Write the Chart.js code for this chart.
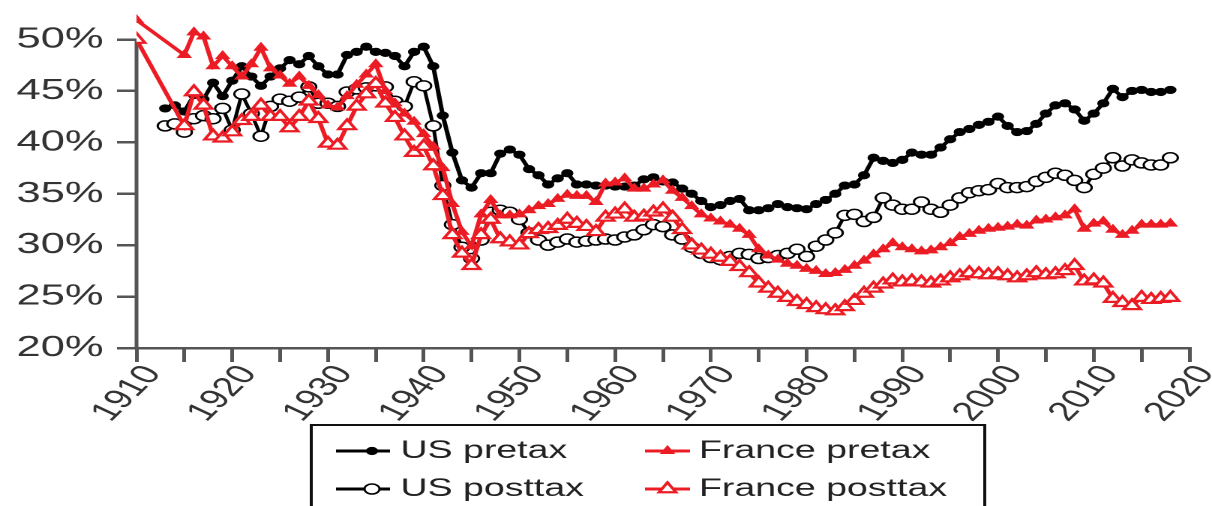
<!DOCTYPE html>
<html>
<head>
<meta charset="utf-8">
<title>Top 10% share: US vs France, pretax and posttax</title>
<script src="https://cdn.jsdelivr.net/npm/chart.js@4.4.1/dist/chart.umd.min.js"></script>
<style>
  html, body { margin: 0; padding: 0; background: #fff; overflow: hidden; }
  /* the source picture is stretched sideways, so draw narrow and widen it */
  #wrap { position: absolute; left: 0; top: 0; width: 808px; height: 506px; transform: scaleX(1.5); transform-origin: 0 0; }
</style>
</head>
<body>
<div id="wrap"><canvas id="myChart"></canvas></div>
<script>
// Years on the x axis (1910 - 2018)
const years = [
  1910, 1911, 1912, 1913, 1914, 1915, 1916, 1917, 1918, 1919,
  1920, 1921, 1922, 1923, 1924, 1925, 1926, 1927, 1928, 1929,
  1930, 1931, 1932, 1933, 1934, 1935, 1936, 1937, 1938, 1939,
  1940, 1941, 1942, 1943, 1944, 1945, 1946, 1947, 1948, 1949,
  1950, 1951, 1952, 1953, 1954, 1955, 1956, 1957, 1958, 1959,
  1960, 1961, 1962, 1963, 1964, 1965, 1966, 1967, 1968, 1969,
  1970, 1971, 1972, 1973, 1974, 1975, 1976, 1977, 1978, 1979,
  1980, 1981, 1982, 1983, 1984, 1985, 1986, 1987, 1988, 1989,
  1990, 1991, 1992, 1993, 1994, 1995, 1996, 1997, 1998, 1999,
  2000, 2001, 2002, 2003, 2004, 2005, 2006, 2007, 2008, 2009,
  2010, 2011, 2012, 2013, 2014, 2015, 2016, 2017, 2018
];

// Series values in %, one row per decade
const usPretax = [
  null, null, null, 43.3, 43.6, 43.0, 44.6, 44.2, 45.8, 44.5,
  46.0, 47.4, 46.4, 45.5, 46.4, 47.2, 48.0, 47.6, 48.4, 47.4,
  46.6, 46.6, 48.5, 48.8, 49.3, 48.8, 48.7, 48.4, 47.4, 48.8,
  49.3, 47.4, 42.6, 39.0, 36.3, 35.6, 37.0, 37.0, 38.9, 39.3,
  38.8, 37.4, 36.8, 35.9, 36.5, 37.0, 35.9, 35.9, 35.8, 35.8,
  35.7, 35.7, 35.8, 36.4, 36.6, 36.2, 36.1, 35.5, 35.0, 34.3,
  33.7, 33.9, 34.3, 34.5, 33.4, 33.4, 33.6, 34.0, 33.7, 33.6,
  33.5, 34.0, 34.4, 35.0, 35.8, 35.9, 36.8, 38.5, 38.2, 38.0,
  38.3, 39.0, 38.8, 38.8, 39.5, 40.3, 41.0, 41.3, 41.7, 42.0,
  42.5, 41.6, 41.0, 41.1, 41.8, 42.8, 43.6, 43.8, 43.2, 42.1,
  42.8, 43.8, 45.2, 44.4, 45.0, 45.1, 44.9, 44.9, 45.1
];

const usPosttax = [
  null, null, null, 41.6, 41.8, 41.0, 42.3, 42.6, 42.3, 43.3,
  41.2, 44.7, 42.8, 40.6, 43.5, 44.2, 44.0, 44.4, 45.4, 43.8,
  43.8, 43.5, 44.9, 45.2, 45.3, 45.5, 45.4, 44.0, 43.5, 45.9,
  45.5, 41.6, 35.8, 32.0, 29.8, 28.7, 30.5, 33.2, 33.4, 33.2,
  32.5, 31.2, 30.5, 30.0, 30.3, 30.6, 30.3, 30.4, 30.5, 30.6,
  30.5, 30.8, 31.0, 31.5, 32.0, 31.8, 31.0, 30.6, 29.8, 29.2,
  28.8, 28.6, 28.9, 29.2, 29.1, 28.7, 28.8, 29.0, 29.2, 29.6,
  28.9, 29.9, 30.5, 31.2, 32.9, 33.0, 32.3, 32.7, 34.6, 33.9,
  33.5, 33.5, 34.2, 33.5, 33.2, 33.9, 34.6, 35.1, 35.3, 35.4,
  36.0, 35.6, 35.6, 35.7, 36.2, 36.6, 37.0, 36.8, 36.3, 35.6,
  36.9, 37.5, 38.5, 37.7, 38.3, 38.0, 37.8, 37.8, 38.5
];

const frPretax = [
  51.9, null, null, null, null, 48.5, 50.7, 50.3, 47.4, 48.4,
  47.4, 46.4, 47.6, 49.2, 47.2, 46.5, 45.7, 46.4, 45.5, 44.6,
  43.6, 43.4, 44.5, 45.6, 46.6, 47.6, 45.0, 43.8, 42.8, 42.0,
  40.8, 39.6, 37.5, 34.0, 31.3, 29.9, 33.0, 34.4, 32.9, 32.9,
  33.0, 33.4, 33.8, 34.0, 34.5, 34.9, 34.8, 34.8, 34.2, 36.0,
  36.1, 36.5, 35.5, 35.5, 35.9, 36.3, 35.3, 34.6, 33.8, 33.0,
  32.6, 32.3, 32.0, 31.6, 31.0, 29.6, 29.0, 28.6, 28.2, 28.0,
  27.7, 27.5, 27.2, 27.3, 27.6, 28.0, 28.5, 29.1, 29.6, 30.2,
  29.8, 29.6, 29.4, 29.5, 29.8, 30.2, 30.8, 31.1, 31.4, 31.6,
  31.7, 31.8, 32.0, 31.9, 32.4, 32.5, 32.7, 32.9, 33.5, 31.6,
  32.1, 32.3, 31.5, 31.0, 31.4, 32.0, 32.0, 32.0, 32.1
];

const frPosttax = [
  50.0, null, null, null, null, 41.6, 44.9, 43.6, 40.6, 40.4,
  41.0, 42.1, 42.5, 43.6, 42.5, 42.5, 41.4, 42.5, 44.0, 42.3,
  39.9, 39.7, 41.6, 43.5, 44.7, 45.7, 43.8, 42.4, 40.6, 39.0,
  39.6, 37.7, 34.8, 31.0, 29.2, 28.0, 31.0, 32.5, 30.6, 30.3,
  30.0, 31.1, 31.5, 31.6, 31.9, 32.5, 32.1, 31.8, 31.3, 32.7,
  33.0, 33.5, 32.7, 32.8, 33.2, 33.5, 32.7, 31.5, 30.0, 29.5,
  29.1, 28.8, 28.4, 27.9, 27.3, 26.3, 25.8, 25.3, 24.9, 24.5,
  24.2, 23.9, 23.7, 23.6, 24.0, 24.6, 25.3, 25.8, 26.2, 26.6,
  26.4, 26.5, 26.4, 26.3, 26.5, 26.8, 27.0, 27.3, 27.2, 27.1,
  27.2, 27.0, 26.8, 27.0, 27.3, 27.1, 27.2, 27.5, 28.0, 26.5,
  26.6, 26.3, 24.8, 24.4, 24.1, 24.9, 24.7, 24.8, 24.9
];

// Labelled y ticks
const yTicks = [20, 25, 30, 35, 40, 45, 50];

const RED = '#ec1c24';
const AXIS = '#555';
const FONT = '"Liberation Sans", Arial, Helvetica, sans-serif';

Chart.defaults.font.family = FONT;
Chart.defaults.color = '#333';

//Set labels, colours and data:
const data = {
  labels: years,
  datasets: [
    {
      label: 'US pretax',
      data: usPretax,
      borderColor: '#000',
      backgroundColor: '#000',
      borderWidth: 3,
      pointStyle: 'circle',
      pointRadius: 3.6,
      pointBorderWidth: 1,
      order: 3
    },
    {
      label: 'US posttax',
      data: usPosttax,
      borderColor: '#000',
      backgroundColor: '#fff',
      borderWidth: 2.5,
      pointStyle: 'circle',
      pointRadius: 5,
      pointBorderWidth: 1.5,
      order: 2
    },
    {
      label: 'France pretax',
      data: frPretax,
      borderColor: RED,
      backgroundColor: RED,
      borderWidth: 3,
      pointStyle: 'triangle',
      pointRadius: 5,
      pointBorderWidth: 1,
      order: 1
    },
    {
      label: 'France posttax',
      data: frPosttax,
      borderColor: RED,
      backgroundColor: '#fff',
      borderWidth: 3,
      pointStyle: 'triangle',
      pointRadius: 6.5,
      pointBorderWidth: 2.2,
      order: 0
    }
  ]
};

// R style y axis line: only from the first to the last tick
const axisLine = {
  id: 'axisLine',
  beforeDatasetsDraw(chart) {
    const y = chart.scales.y;
    const ctx = chart.ctx;
    ctx.save();
    ctx.strokeStyle = AXIS;
    ctx.lineWidth = 2.5;
    ctx.beginPath();
    ctx.moveTo(y.right, y.getPixelForValue(yTicks[yTicks.length - 1]));
    ctx.lineTo(y.right, y.getPixelForValue(yTicks[0]) + 1);
    ctx.stroke();
    ctx.restore();
  }
};

// Slanted year labels, one every 10 years, hung under the tick marks
const yearLabels = {
  id: 'yearLabels',
  afterDraw(chart) {
    const x = chart.scales.x;
    const ctx = chart.ctx;
    ctx.save();
    ctx.fillStyle = '#333';
    ctx.font = '27px ' + FONT;
    ctx.textAlign = 'right';
    ctx.textBaseline = 'middle';
    x.ticks.forEach(t => {
      if (t.value % 10 !== 0) return;
      ctx.save();
      ctx.translate(x.getPixelForValue(t.value) + 11, x.top + 21);
      ctx.rotate(-55 * Math.PI / 180);
      ctx.fillText(String(t.value), 0, 0);
      ctx.restore();
    });
    ctx.restore();
  }
};

// Boxed 2x2 legend under the axis
const boxLegend = {
  id: 'boxLegend',
  afterDraw(chart) {
    const ctx = chart.ctx;
    const cols = [{ x1: 224, x2: 260, mx: 248, tx: 267 }, { x1: 430, x2: 460, mx: 445, tx: 466 }];
    const rows = [451, 489];
    // dataset index for each cell: column by country, row by pre/post tax
    const cells = [[0, 0, 0], [1, 0, 1], [2, 1, 0], [3, 1, 1]];
    ctx.save();
    ctx.strokeStyle = '#111';
    ctx.lineWidth = 2;
    ctx.strokeRect(207.5, 425, 449, 90);
    cells.forEach(([i, c, r]) => {
      const ds = chart.data.datasets[i];
      const col = cols[c];
      const y = rows[r];
      ctx.strokeStyle = ds.borderColor;
      ctx.lineWidth = 3;
      ctx.beginPath();
      ctx.moveTo(col.x1, y);
      ctx.lineTo(col.x2, y);
      ctx.stroke();
      ctx.fillStyle = ds.backgroundColor;
      ctx.lineWidth = ds.pointBorderWidth;
      Chart.helpers.drawPoint(ctx, {
        pointStyle: ds.pointStyle,
        radius: ds.pointRadius,
        rotation: 0,
        borderWidth: ds.pointBorderWidth
      }, col.mx, y);
      ctx.fillStyle = '#222';
      ctx.font = '25px ' + FONT;
      ctx.textBaseline = 'middle';
      ctx.fillText(ds.label, col.tx, y);
    });
    ctx.restore();
  }
};

// Configure chart
const config = {
  type: 'line',
  data: data,
  options: {
    responsive: true,
    maintainAspectRatio: false,
    animation: false,
    devicePixelRatio: 2,
    spanGaps: true,
    layout: { padding: { left: 0, right: 15, top: 4, bottom: 83 } },
    elements: { line: { tension: 0 } },
    plugins: {
      legend: { display: false },
      tooltip: { enabled: false }
    },
    scales: {
      x: {
        type: 'linear',
        min: 1910,
        max: 2020,
        border: { display: true, color: AXIS, width: 2.5 },
        grid: { drawOnChartArea: false, drawTicks: true, tickLength: 14, color: AXIS, lineWidth: 2.5 },
        ticks: { stepSize: 5, autoSkip: false, display: false },
        afterFit: s => { s.height = 75; s.paddingLeft = 0; s.paddingRight = 0; }
      },
      y: {
        min: 20,
        max: 53,
        border: { display: false },
        grid: { drawOnChartArea: false, drawTicks: true, tickLength: 13, color: AXIS, lineWidth: 2.5 },
        ticks: {
          padding: 9,
          font: { size: 29 },
          callback: v => v + '%'
        },
        afterBuildTicks: s => { s.ticks = yTicks.map(v => ({ value: v })); },
        afterFit: s => { s.width = 91; s.paddingTop = 0; s.paddingBottom = 0; }
      }
    }
  },
  plugins: [axisLine, yearLabels, boxLegend]
};

// Render chart in <canvas>
const myChart = new Chart(
  document.getElementById('myChart'),
  config
);
</script>
</body>
</html>
